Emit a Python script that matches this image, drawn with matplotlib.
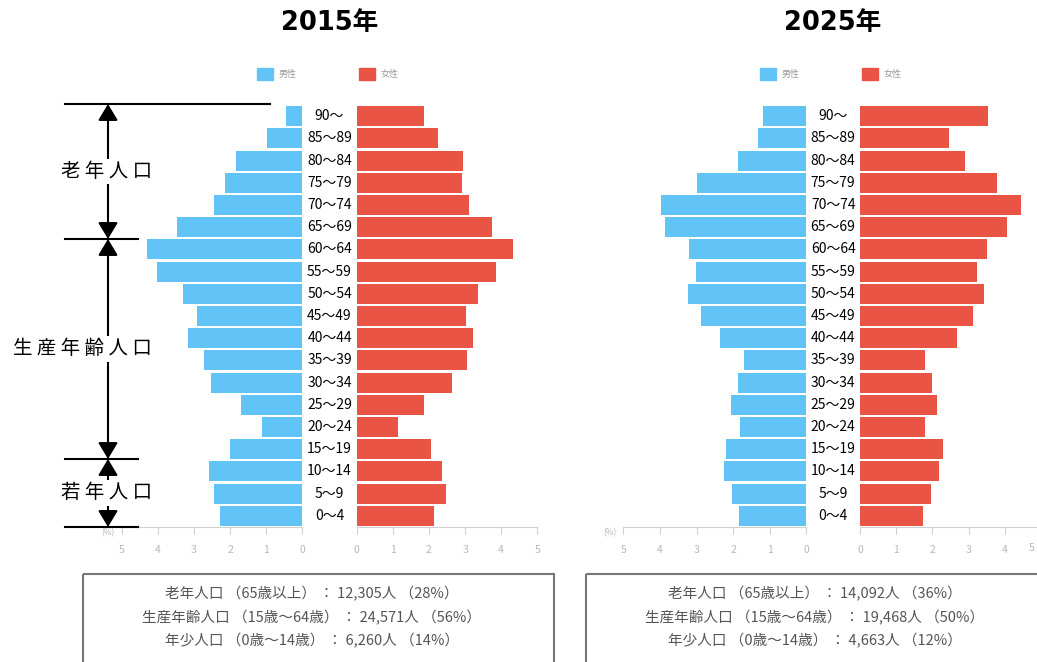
import matplotlib.pyplot as plt
from matplotlib.patches import Rectangle

plt.rcParams['font.family'] = ['Noto Sans CJK JP', 'DejaVu Sans']

W, H = 1037, 662
BLUE = '#62C4F6'
RED = '#EA5445'

# age groups, bottom to top
ages = ['0～4', '5～9', '10～14', '15～19', '20～24', '25～29', '30～34',
        '35～39', '40～44', '45～49', '50～54', '55～59', '60～64', '65～69',
        '70～74', '75～79', '80～84', '85～89', '90～']

# share of total population (%)
male_2015 = [2.27, 2.45, 2.59, 1.99, 1.12, 1.70, 2.54, 2.71, 3.16, 2.91,
             3.31, 4.01, 4.31, 3.46, 2.45, 2.15, 1.83, 0.98, 0.45]
female_2015 = [2.14, 2.48, 2.37, 2.05, 1.15, 1.86, 2.63, 3.06, 3.21, 3.03,
               3.35, 3.86, 4.34, 3.75, 3.10, 2.92, 2.94, 2.25, 1.85]
male_2025 = [1.84, 2.02, 2.25, 2.19, 1.81, 2.07, 1.86, 1.69, 2.37, 2.87,
             3.24, 3.01, 3.20, 3.85, 3.96, 2.99, 1.86, 1.32, 1.18]
female_2025 = [1.75, 1.96, 2.19, 2.30, 1.80, 2.12, 2.00, 1.80, 2.67, 3.12,
               3.42, 3.23, 3.51, 4.07, 4.45, 3.79, 2.91, 2.46, 3.53]

ticks = [0, 1, 2, 3, 4, 5]

summary_2015 = ['老年人口 （65歳以上） ： 12,305人 （28%）',
                '生産年齢人口 （15歳～64歳） ： 24,571人 （56%）',
                '年少人口 （0歳～14歳） ： 6,260人 （14%）']
summary_2025 = ['老年人口 （65歳以上） ： 14,092人 （36%）',
                '生産年齢人口 （15歳～64歳） ： 19,468人 （50%）',
                '年少人口 （0歳～14歳） ： 4,663人 （12%）']

TICK_GRAY = '#b8b8b8'


def px_axes(fig, x0, y0, x1, y1):
    return fig.add_axes([x0 / W, 1 - y1 / H, (x1 - x0) / W, (y1 - y0) / H])


def style_axis(ax, labels):
    for s in ['top', 'left', 'right']:
        ax.spines[s].set_visible(False)
    ax.spines['bottom'].set_color('#d0d0d0')
    ax.set_yticks([])
    ax.set_xticks(ticks)
    ax.set_xticklabels(labels)
    ax.tick_params(axis='x', length=5, color='#d0d0d0', labelcolor=TICK_GRAY,
                   labelsize=7.5, pad=8)
    ax.set_ylim(-0.5, len(ages) - 0.5)
    ax.patch.set_alpha(0)


def draw_pyramid(fig, ov, title, male, female, summary, xm0, xm1, xf0, xf1, cx):
    top, bottom = 105, 527
    pos = list(range(len(ages)))
    labels = [str(t) for t in ticks]

    axm = px_axes(fig, xm0, top, xm1, bottom)
    axm.barh(pos, male, height=0.9, color=BLUE)
    axm.set_xlim(5, 0)
    style_axis(axm, labels)

    axf = px_axes(fig, xf0, top, xf1, bottom)
    axf.barh(pos, female, height=0.9, color=RED)
    axf.set_xlim(0, 5)
    if xf1 > W - 4:
        # the last tick falls on the picture edge: draw its label just inside
        style_axis(axf, labels[:-1] + [''])
        ov.text(W - 5, 548, labels[-1], fontsize=7.5, color=TICK_GRAY,
                ha='center', va='center')
    else:
        style_axis(axf, labels)

    axc = px_axes(fig, xm1, top, xf0, bottom)
    axc.set_ylim(-0.5, len(ages) - 0.5)
    axc.set_xlim(0, 1)
    axc.axis('off')
    for i, a in enumerate(ages):
        axc.text(0.5, i, a, ha='center', va='center', fontsize=10)

    ov.text(xm0 - 20, 533, '(%)', fontsize=6, color=TICK_GRAY, va='center')

    ov.text(cx, 23, title, fontsize=18.5, fontweight='bold', ha='center',
            va='center', family=['DejaVu Sans', 'Noto Sans CJK JP'])

    lx = cx - 73
    ov.add_patch(Rectangle((lx, 68), 16, 12, color=BLUE))
    ov.text(lx + 22, 74, '男性', fontsize=6.5, color='#999999', va='center')
    ov.add_patch(Rectangle((lx + 102, 68), 16, 12, color=RED))
    ov.text(lx + 124, 74, '女性', fontsize=6.5, color='#999999', va='center')

    ov.add_patch(Rectangle((cx - 247, 574), 471, 100, fill=False,
                           edgecolor='#777777', lw=1.5, clip_on=False))
    for k, line in enumerate(summary):
        ov.text(cx - 18, 594 + k * 23.5, line, ha='center', va='center',
                fontsize=10.5, color='#555555')


fig = plt.figure(figsize=(W / 100, H / 100), dpi=100)
ov = fig.add_axes([0, 0, 1, 1])
ov.set_xlim(0, W)
ov.set_ylim(H, 0)
ov.axis('off')

draw_pyramid(fig, ov, '2015年', male_2015, female_2015, summary_2015,
             121.7, 302.3, 356.7, 537.3, 330)
draw_pyramid(fig, ov, '2025年', male_2025, female_2025, summary_2025,
             623.3, 806.3, 860, 1041, 833)

ov.set_zorder(10)

# age bracket annotations
for y, x1 in [(104, 270), (239, 138), (459, 138), (527, 138)]:
    ov.plot([65, x1], [y, y], color='black', lw=1.5)

arrow = dict(arrowstyle='<|-|>,head_length=0.5,head_width=0.3', color='black',
             lw=1.5, shrinkA=0, shrinkB=0, mutation_scale=20)
brackets = [(104, 239, '老 年 人 口'), (239, 459, '生 産 年 齢 人 口'),
            (459, 527, '若 年 人 口')]
for y0, y1, label in brackets:
    ov.annotate('', xy=(108, y0), xytext=(108, y1), arrowprops=arrow)
    ov.text(152, (y0 + y1) / 2, label, fontsize=14, ha='right', va='center',
            bbox=dict(facecolor='white', edgecolor='none', pad=1.5))

fig.savefig('out.png', dpi=100)
